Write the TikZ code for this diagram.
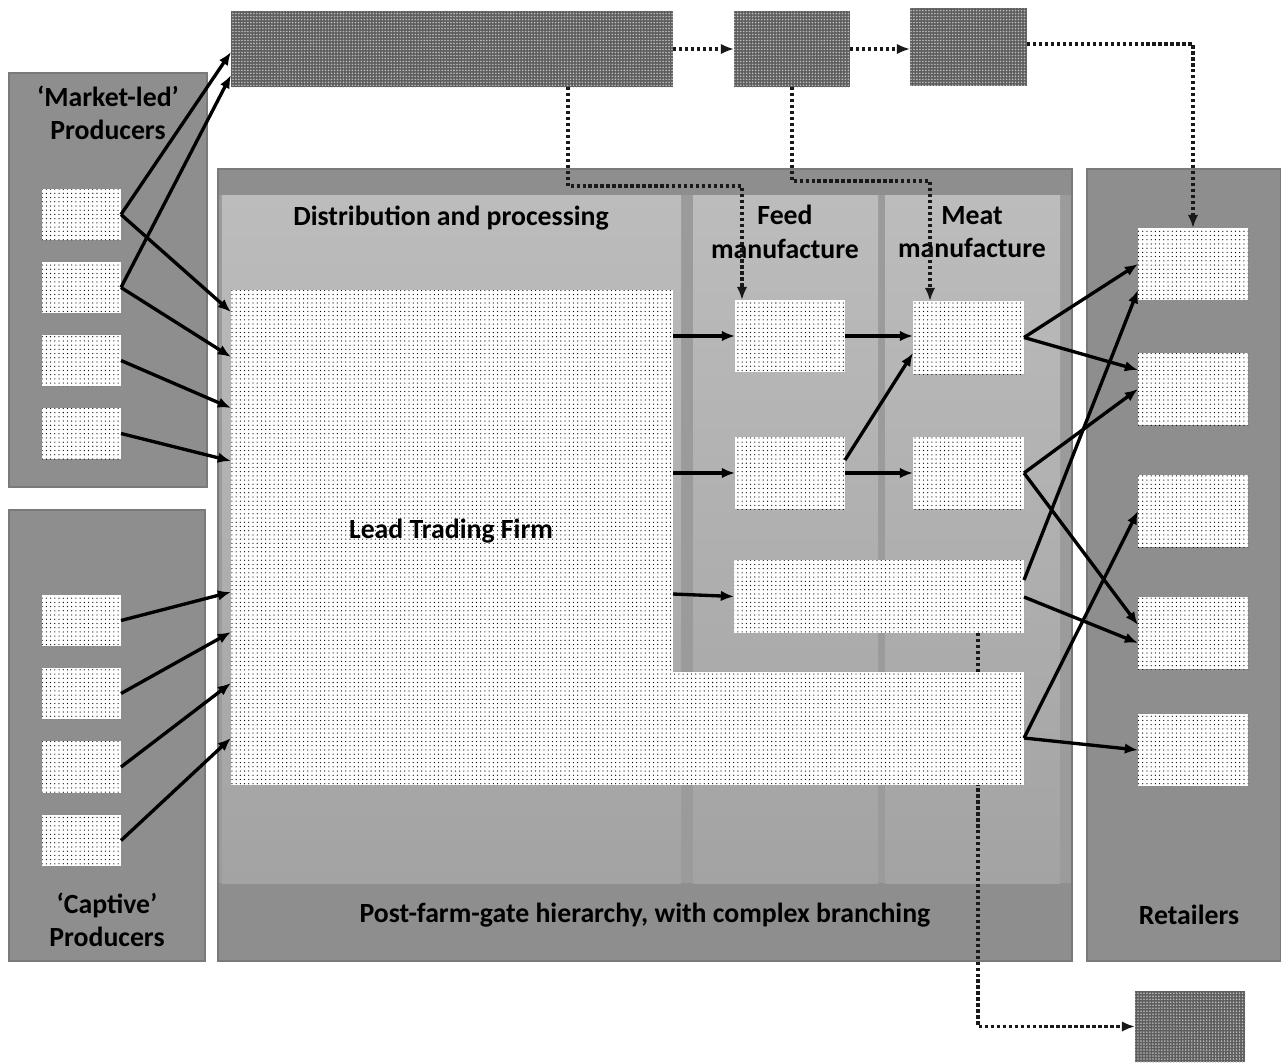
\documentclass[tikz,border=0pt]{standalone}
\usepackage{fontspec}
\setmainfont{Carlito}
\usetikzlibrary{%
  arrows.meta,%
  calc,%
  fit,%
  patterns,%
  patterns.meta%
}
\definecolor{panelgray}{HTML}{8E8E8E}
\definecolor{edgegray}{HTML}{7A7A7A}
\definecolor{coregray}{HTML}{9B9B9B}
\definecolor{coltop}{HTML}{BCBCBC}
\definecolor{colbot}{HTML}{A3A3A3}
\definecolor{darkbox}{HTML}{5E5E5E}
\definecolor{dotlight}{HTML}{BDBDBD}
\tikzset{>={Latex[length=7.5pt,width=6pt]}}
\tikzset{area/.style={inner sep=0pt, outer sep=0pt},
  panel/.style={area, fill=panelgray, draw=edgegray, line width=0.6pt},
  column/.style={area, top color=coltop, bottom color=colbot},
  stipple/.style={area, fill=white, postaction={pattern color=black,
      pattern={Dots[distance=2.4pt,radius=0.36pt]}}},
  hatchbox/.style={area, fill=darkbox, postaction={pattern color=dotlight,
      pattern={Dots[distance=1.7pt,radius=0.5pt]}}},
  lbl/.style={font=\bfseries\fontsize{15.8}{19}\selectfont, align=center, inner sep=0pt},
  flow/.style={->, line width=1.9pt},
  link/.style={->, line width=2.1pt, dash pattern=on 1.9pt off 1.5pt, draw=black!90}}

\begin{document}
\begin{tikzpicture}[x=0.02cm, y=-0.02cm]
  \useasboundingbox (0,0) rectangle (1281,1062);
  % panels
  \node[panel, fit={(9,73) (207,487)}] (mkt) {};
  \node[panel, fit={(9,510) (205,961)}] (cap) {};
  \node[panel, fit={(218,169) (1072,961)}] (post) {};
  \node[panel, fit={(1087,169) (1281,961)}] (ret) {};
  \node[area, fill=coregray, fit={(219,195) (1071,883)}] (core) {};
  \node[column, fit={(222,195) (681,883)}] (dcol) {};
  \node[column, fit={(693,195) (878,883)}] (fcol) {};
  \node[column, fit={(885,195) (1060,883)}] (mcol) {};
  % labels
  \node[lbl] (mtxt) at (108,113) {‘Market-led’\\Producers};
  \node[lbl] (ctxt) at (107,920) {‘Captive’\\Producers};
  \node[lbl] (dtxt) at (451,218) {Distribution and processing};
  \node[lbl] (ftxt) at (785,232) {Feed\\manufacture};
  \node[lbl] (mttxt) at (972,232) {Meat\\manufacture};
  \node[lbl] (ptxt) at (645,915) {Post-farm-gate hierarchy, with complex branching};
  \node[lbl] (rtxt) at (1189,915) {Retailers};
  % outside firms
  \node[hatchbox, fit={(231,11) (673,87)}] (t1) {};
  \node[hatchbox, fit={(734,11) (850,87)}] (t2) {};
  \node[hatchbox, fit={(910,8) (1027,86)}] (t3) {};
  \node[hatchbox, fit={(1135,991) (1245,1062)}] (b) {};
  % producers
  \node[stipple, fit={(42,189) (121,240)}] (p1) {};
  \node[stipple, fit={(42,262) (121,313)}] (p2) {};
  \node[stipple, fit={(42,335) (121,386)}] (p3) {};
  \node[stipple, fit={(42,408) (121,459)}] (p4) {};
  \node[stipple, fit={(42,595) (121,646)}] (c1) {};
  \node[stipple, fit={(42,668) (121,719)}] (c2) {};
  \node[stipple, fit={(42,741) (121,793)}] (c3) {};
  \node[stipple, fit={(42,815) (121,866)}] (c4) {};
  % manufacture
  \node[stipple, fit={(735,300) (845,372)}] (f1) {};
  \node[stipple, fit={(735,437) (845,509)}] (f2) {};
  \node[stipple, fit={(913,301) (1024,374)}] (m1) {};
  \node[stipple, fit={(913,437) (1024,509)}] (m2) {};
  \node[stipple, fit={(734,560) (1024,633)}] (w) {};
  % retailers
  \node[stipple, fit={(1138,228) (1248,300)}] (r1) {};
  \node[stipple, fit={(1138,353) (1248,425)}] (r2) {};
  \node[stipple, fit={(1138,475) (1248,547)}] (r3) {};
  \node[stipple, fit={(1138,597) (1248,669)}] (r4) {};
  \node[stipple, fit={(1138,714) (1248,786)}] (r5) {};
  \draw[link] (978,0 |- w.south) |- (b.west);
  % lead firm
  \node[stipple, fit={(660,672) (1024,785)}] (ltx) {};
  \node[stipple, fit={(231,290) (673,785)}] (lt) {};
  \node[lbl] (lttxt) at (451,531) {Lead Trading Firm};
  % dotted links
  \draw[link] (t1.east) -- (t2.west);
  \draw[link] (t2.east) -- (t3.west |- t2.east);
  \draw[link] (t3.east |- 0,44) -| (r1.north);
  \draw[link] (568,0 |- t1.south) |- (742,186) -- (742,0 |- f1.north);
  \draw[link] (t2.south) |- (930,181) -- (930,0 |- m1.north);
  % producer arrows
  \draw[flow] (p1.east) -- (t1.west |- 0,52);
  \draw[flow] (p2.east) -- (t1.west |- 0,75);
  \draw[flow] (p1.east) -- (lt.west |- 0,312);
  \draw[flow] (p2.east) -- (lt.west |- 0,357);
  \draw[flow] (p3.east) -- (lt.west |- 0,408);
  \draw[flow] (p4.east) -- (lt.west |- 0,461);
  \draw[flow] (c1.east) -- (lt.west |- 0,592);
  \draw[flow] (c2.east) -- (lt.west |- 0,632);
  \draw[flow] (c3.east) -- (lt.west |- 0,683);
  \draw[flow] (c4.east) -- (lt.west |- 0,738);
  % firm arrows
  \draw[flow] (lt.east |- f1.west) -- (f1.west);
  \draw[flow] (lt.east |- f2.west) -- (f2.west);
  \draw[flow] (lt.east |- 0,594) -- (w.west);
  \draw[flow] (f1.east) -- (m1.west |- f1.east);
  \draw[flow] (f2.east |- 0,460) -- (m1.west |- 0,353);
  \draw[flow] (f2.east) -- (m2.west);
  % retail arrows
  \draw[flow] (m1.east) -- (r1.west);
  \draw[flow] (m1.east) -- (r2.west |- 0,370);
  \draw[flow] (m2.east) -- (r2.west);
  \draw[flow] (m2.east) -- (r4.west |- 0,625);
  \draw[flow] (w.east |- 0,580) -- (r1.west |- 0,290);
  \draw[flow] (w.east |- 0,597) -- (r4.west |- 0,643);
  \draw[flow] (ltx.east |- 0,738) -- (r3.west);
  \draw[flow] (ltx.east |- 0,738) -- (r5.west);
\end{tikzpicture}
\end{document}
